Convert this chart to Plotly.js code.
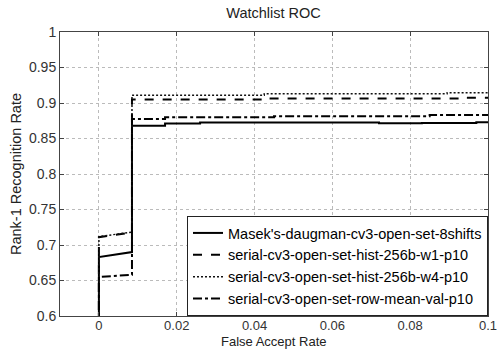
<!DOCTYPE html>
<html><head><meta charset="utf-8">
<script src="https://cdn.plot.ly/plotly-3.0.1.min.js"></script>
<style>html,body{margin:0;padding:0;background:#fff}#c{width:502px;height:349px}</style>
</head><body><div id="c"></div>
<script>
const seriesNames = ["Masek's-daugman-cv3-open-set-8shifts","serial-cv3-open-set-hist-256b-w1-p10","serial-cv3-open-set-hist-256b-w4-p10","serial-cv3-open-set-row-mean-val-p10"];
const xMasek = [0, 0, 0.0085, 0.0085, 0.017, 0.017, 0.026, 0.026, 0.072, 0.072, 0.083, 0.083, 0.097, 0.097, 0.1];
const yMasek = [0, 0.683, 0.690, 0.868, 0.868, 0.871, 0.871, 0.8725, 0.8725, 0.8715, 0.8715, 0.872, 0.872, 0.873, 0.873];
const xW1 = [0, 0, 0.0085, 0.0085, 0.0425, 0.0425, 0.0945, 0.0945, 0.1];
const yW1 = [0, 0.711, 0.7175, 0.905, 0.905, 0.9065, 0.9065, 0.9075, 0.9075];
const xW4 = [0, 0, 0.0085, 0.0085, 0.0425, 0.0425, 0.0895, 0.0895, 0.1];
const yW4 = [0, 0.712, 0.718, 0.911, 0.911, 0.913, 0.913, 0.9145, 0.9145];
const xRow = [0, 0, 0.0085, 0.0085, 0.017, 0.017, 0.045, 0.045, 0.085, 0.085, 0.1];
const yRow = [0, 0.655, 0.658, 0.8775, 0.8775, 0.880, 0.880, 0.8815, 0.8815, 0.883, 0.883];
const xTicks = [0, 0.02, 0.04, 0.06, 0.08, 0.1];
const xTickText = ["0", "0.02", "0.04", "0.06", "0.08", "0.1"];
const yTicks = [0.6, 0.65, 0.7, 0.75, 0.8, 0.85, 0.9, 0.95, 1];
const yTickText = ["0.6", "0.65", "0.7", "0.75", "0.8", "0.85", "0.9", "0.95", "1"];

const F = "Liberation Sans, Arial, sans-serif";
const FS = 14.5;
const traces = [
  {x: xMasek, y: yMasek, name: seriesNames[0], mode: "lines", line: {color: "#000", width: 2, dash: "solid"}},
  {x: xW1, y: yW1, name: seriesNames[1], mode: "lines", line: {color: "#000", width: 2, dash: "dash"}},
  {x: xW4, y: yW4, name: seriesNames[2], mode: "lines", line: {color: "#111", width: 1.5, dash: "2px,2px"}},
  {x: xRow, y: yRow, name: seriesNames[3], mode: "lines", line: {color: "#000", width: 2, dash: "dashdot"}}
];
const axCommon = {
  showline: true, linecolor: "#444", linewidth: 1, mirror: "ticks",
  ticks: "inside", ticklen: 4, tickcolor: "#444",
  showgrid: true, gridcolor: "#bbb", griddash: "dot", gridwidth: 1,
  zeroline: false, tickfont: {family: F, size: 14, color: "#333"}
};
const layout = {
  width: 502, height: 349,
  margin: {l: 60, r: 14, t: 32, b: 33},
  paper_bgcolor: "#fff", plot_bgcolor: "#fff",
  title: {text: "Watchlist ROC", font: {family: F, size: FS, color: "#222"}, x: 0.545, xanchor: "center", y: 0.962, yanchor: "middle"},
  xaxis: Object.assign({}, axCommon, {range: [-0.01, 0.1], tickvals: xTicks, ticktext: xTickText,
    tickfont: {family: F, size: 13, color: "#333"}, ticklabelstandoff: -3}),
  yaxis: Object.assign({}, axCommon, {range: [0.6, 1], tickvals: yTicks, ticktext: yTickText,
    title: {text: "Rank-1 Recognition Rate", font: {family: F, size: FS, color: "#222"}, standoff: 3}}),
  annotations: [{text: "False Accept Rate", xref: "paper", yref: "paper", x: 0.5, y: -0.09, xanchor: "center", yanchor: "middle",
    showarrow: false, borderpad: 0, font: {family: F, size: 13, color: "#222"}}],
  showlegend: true,
  legend: {x: 1, y: 0, xanchor: "right", yanchor: "bottom", bgcolor: "#fff", bordercolor: "#222", borderwidth: 1,
    font: {family: F, size: FS, color: "#000"}, tracegroupgap: 0, itemwidth: 30}
};
Plotly.newPlot("c", traces, layout, {displayModeBar: false, staticPlot: true});
</script></body></html>
